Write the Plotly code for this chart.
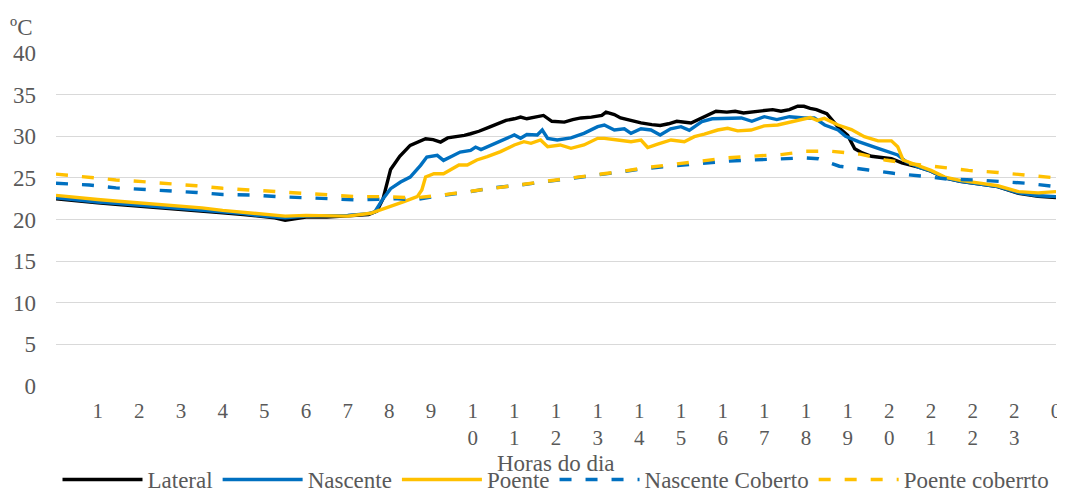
import plotly.graph_objects as go

# ---- data ----
lateral_h = [0, 0.5, 1, 1.5, 2, 2.5, 3, 3.5, 4, 4.5, 5, 5.25, 5.5, 5.75, 6, 6.5, 7, 7.5, 7.7, 7.85,
             8.03, 8.25, 8.5, 8.87, 9.05, 9.23, 9.4, 9.6, 9.8, 9.95, 10.15, 10.4, 10.6, 10.8, 11.0, 11.15,
             11.3, 11.5, 11.7, 11.9, 12.2, 12.4, 12.6, 12.85, 13.1, 13.2, 13.4, 13.55, 13.8, 14.04, 14.3,
             14.5, 14.7, 14.9, 15.24, 15.5, 15.84, 16.1, 16.3, 16.5, 16.7, 17.0, 17.2, 17.4, 17.6, 17.8,
             17.95, 18.1, 18.25, 18.37, 18.5, 18.77, 19.0, 19.17, 19.35, 19.57, 20.05, 20.3, 20.7, 21.0,
             21.33, 21.7, 22.13, 22.6, 23.1, 23.57, 24]
lateral_t = [22.5, 22.2, 22.0, 21.8, 21.6, 21.5, 21.3, 21.0, 20.8, 20.6, 20.3, 20.2, 19.9, 20.1, 20.3, 20.3,
             20.4, 20.6, 21.0, 22.5, 26.0, 27.6, 28.9, 29.7, 29.6, 29.3, 29.8, 29.9, 30.1, 30.3, 30.6, 31.1,
             31.5, 31.9, 32.1, 32.3, 32.1, 32.3, 32.5, 31.8, 31.7, 32.0, 32.2, 32.3, 32.5, 32.9, 32.6, 32.2,
             31.9, 31.6, 31.4, 31.3, 31.5, 31.8, 31.6, 32.2, 33.0, 32.9, 33.0, 32.8, 32.9, 33.0, 33.2, 33.0,
             33.2, 33.6, 33.6, 33.35, 33.2, 32.95, 32.7, 31.1, 30.1, 28.5, 28.0, 27.6, 27.3, 26.8, 26.3,
             25.8, 25.0, 24.6, 24.3, 23.95, 23.15, 22.8, 22.65]

nascente_h = [0, 0.5, 1, 1.5, 2, 2.5, 3, 3.5, 4, 4.5, 5, 5.5, 6, 6.5, 7, 7.5, 7.65, 7.85, 8.03, 8.27,
              8.5, 8.75, 8.9, 9.15, 9.3, 9.5, 9.7, 9.95, 10.07, 10.2, 10.43, 10.75, 11.0, 11.15, 11.3,
              11.55, 11.67, 11.8, 12.03, 12.36, 12.67, 13.0, 13.16, 13.4, 13.64, 13.8, 14.04, 14.28, 14.5,
              14.75, 15.0, 15.2, 15.5, 15.75, 16.0, 16.45, 16.7, 17.0, 17.3, 17.6, 17.96, 18.2, 18.45,
              18.77, 18.95, 19.26, 19.73, 20.2, 20.4, 20.7, 21.0, 21.33, 21.7, 22.13, 22.6, 23.1, 23.57, 24]
nascente_t = [22.6, 22.3, 22.1, 21.9, 21.7, 21.6, 21.4, 21.1, 20.9, 20.7, 20.4, 20.2, 20.4, 20.4, 20.5,
              20.7, 20.9, 22.5, 23.7, 24.5, 25.1, 26.5, 27.5, 27.7, 27.1, 27.6, 28.1, 28.3, 28.7, 28.4,
              28.9, 29.5, 30.15, 29.75, 30.2, 30.15, 30.75, 29.75, 29.55, 29.8, 30.35, 31.15, 31.35, 30.75,
              30.9, 30.35, 30.9, 30.75, 30.15, 30.9, 31.15, 30.7, 31.75, 32.1, 32.1, 32.2, 31.8, 32.35,
              32.0, 32.35, 32.2, 32.2, 31.35, 30.75, 30.0, 29.35, 28.55, 27.75, 26.95, 26.3, 25.8, 25.0,
              24.6, 24.3, 23.95, 23.2, 22.85, 22.75]

poente_h = [0, 0.5, 1, 1.5, 2, 2.5, 3, 3.5, 4, 4.5, 5, 5.5, 6, 6.5, 7, 7.55, 8.03, 8.35, 8.67, 8.78,
            8.87, 9.07, 9.3, 9.47, 9.67, 9.87, 10.1, 10.35, 10.67, 11.0, 11.23, 11.4, 11.63, 11.8, 12.1,
            12.36, 12.67, 13.0, 13.16, 13.48, 13.8, 14.04, 14.2, 14.44, 14.76, 15.08, 15.32, 15.56, 15.88,
            16.12, 16.36, 16.68, 17.0, 17.32, 17.64, 17.96, 18.1, 18.27, 18.44, 18.77, 19.09, 19.4, 19.73,
            20.05, 20.2, 20.33, 20.53, 20.7, 21.0, 21.33, 21.7, 22.13, 22.6, 23.1, 23.57, 24]
poente_t = [22.9, 22.6, 22.4, 22.2, 22.0, 21.9, 21.7, 21.4, 21.1, 20.9, 20.6, 20.4, 20.5, 20.4, 20.4,
            20.75, 21.55, 22.15, 22.75, 23.55, 25.1, 25.5, 25.5, 25.95, 26.55, 26.55, 27.15, 27.55, 28.15,
            28.95, 29.35, 29.15, 29.55, 28.75, 28.95, 28.55, 28.95, 29.75, 29.75, 29.55, 29.35, 29.55,
            28.65, 29.05, 29.55, 29.35, 29.95, 30.25, 30.75, 30.95, 30.65, 30.75, 31.25, 31.35, 31.75,
            32.15, 32.25, 31.9, 32.15, 31.35, 30.8, 29.95, 29.45, 29.45, 28.75, 27.15, 26.75, 26.4, 25.9,
            25.1, 24.7, 24.4, 24.05, 23.35, 23.2, 23.35]

nasc_cob_h = [0, 0.8, 1.44, 2.08, 2.72, 3.37, 4.0, 4.65, 5.29, 5.93, 6.57, 7.2, 7.8, 8.2, 8.6, 9.2, 9.9,
              10.4, 11.15, 11.8, 12.4, 12.95, 13.6, 14.2, 14.8, 15.5, 16.1, 16.7, 17.4, 18.0, 18.3, 18.8,
              19.5, 20.1, 20.8, 21.4, 22.1, 22.7, 23.3, 24]
nasc_cob_t = [24.35, 24.15, 23.8, 23.65, 23.45, 23.25, 23.0, 22.95, 22.75, 22.65, 22.5, 22.35, 22.5, 22.5,
              22.35, 22.85, 23.3, 23.75, 24.15, 24.55, 24.95, 25.35, 25.75, 26.15, 26.45, 26.75, 27.0,
              27.15, 27.3, 27.4, 27.3, 26.4, 25.95, 25.55, 25.2, 24.85, 24.75, 24.55, 24.35, 23.95]

poen_cob_h = [0, 0.8, 1.44, 2.08, 2.72, 3.37, 4.0, 4.65, 5.29, 5.93, 6.57, 7.2, 7.9, 8.6, 9.2, 9.9, 10.4,
              11.15, 11.8, 12.4, 12.95, 13.6, 14.2, 14.8, 15.5, 16.1, 16.7, 17.4, 18.0, 18.6, 19.3, 19.9,
              20.5, 21.2, 21.9, 22.6, 23.2, 24]
poen_cob_t = [25.45, 25.05, 24.75, 24.55, 24.35, 24.05, 23.75, 23.55, 23.25, 23.15, 22.95, 22.75, 22.75,
              22.6, 22.9, 23.35, 23.75, 24.15, 24.55, 24.95, 25.35, 25.8, 26.25, 26.6, 26.95, 27.4, 27.6,
              27.8, 28.2, 28.2, 27.85, 27.15, 26.7, 26.3, 25.9, 25.65, 25.4, 25.0]

hour_ticks = list(range(1, 25))
hour_labels = ["1", "2", "3", "4", "5", "6", "7", "8", "9",
               "1<br>0", "1<br>1", "1<br>2", "1<br>3", "1<br>4", "1<br>5", "1<br>6", "1<br>7",
               "1<br>8", "1<br>9", "2<br>0", "2<br>1", "2<br>2", "2<br>3", "0"]
y_ticks = [0, 5, 10, 15, 20, 25, 30, 35, 40]

FONT = "Liberation Serif, Times New Roman, serif"
GREY = "#595959"
BLACK = "#000000"
BLUE = "#0070C0"
YELLOW = "#FFC000"

fig = go.Figure()
series = [
    ("Lateral", lateral_h, lateral_t, BLACK, "solid"),
    ("Nascente", nascente_h, nascente_t, BLUE, "solid"),
    ("Poente", poente_h, poente_t, YELLOW, "solid"),
    ("Nascente Coberto", nasc_cob_h, nasc_cob_t, BLUE, "12px,14px"),
    ("Poente coberrto", poen_cob_h, poen_cob_t, YELLOW, "12px,14px"),
]
for name, xs, ys, col, dash in series:
    fig.add_trace(go.Scatter(
        x=xs, y=ys, mode="lines", name=name,
        line=dict(color=col, width=3.4, dash=dash, shape="linear"),
    ))

# the page body adds an 8px offset, so margins are shifted by 8px
fig.update_layout(
    width=1057, height=493,
    margin=dict(l=48, r=9, t=45, b=115),
    paper_bgcolor="white", plot_bgcolor="white",
    font=dict(family=FONT, size=22, color=GREY),
    showlegend=True,
    legend=dict(orientation="h", x=0.5, xanchor="center", xref="paper",
                y=0, yanchor="bottom", yref="container",
                font=dict(family=FONT, size=23, color=GREY),
                itemwidth=80, tracegroupgap=0),
    xaxis=dict(range=[0, 24], tickmode="array", tickvals=hour_ticks, ticktext=hour_labels,
               showgrid=False, zeroline=False, showline=False, ticks="", automargin=False,
               tickfont=dict(family=FONT, size=21, color=GREY), ticklabelstandoff=10),
    yaxis=dict(range=[0, 40], tickmode="array", tickvals=y_ticks, automargin=False,
               showgrid=True, gridcolor="#D9D9D9", gridwidth=1.3, zeroline=False, showline=False,
               ticks="", tickfont=dict(family=FONT, size=23, color=GREY), ticklabelstandoff=19),
)
# axis title (placed as annotation so the plot area is not resized)
fig.add_annotation(text="Horas do dia", xref="paper", yref="paper", x=0.5, y=-0.232,
                   xanchor="center", yanchor="middle", showarrow=False,
                   font=dict(family=FONT, size=23, color=GREY))
fig.add_annotation(text="ºC", xref="paper", yref="paper", x=-0.048, y=1.077, xanchor="left",
                   yanchor="middle", showarrow=False, font=dict(family=FONT, size=23, color=GREY))

fig.write_html("out.html")
